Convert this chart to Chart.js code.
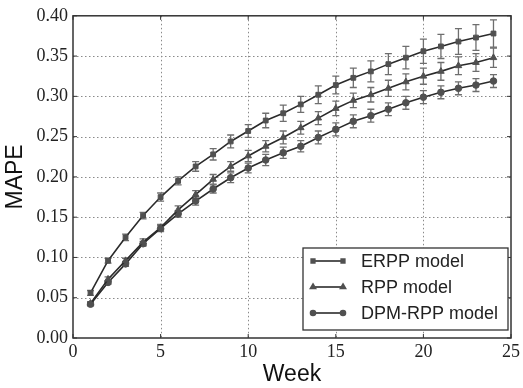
<!DOCTYPE html>
<html>
<head>
<meta charset="utf-8">
<script src="https://cdn.jsdelivr.net/npm/chart.js@4"></script>
<style>
  html, body { margin: 0; padding: 0; background: #fff; }
  #wrap { width: 523px; height: 388px; }
</style>
</head>
<body>
<div id="wrap"><canvas id="mapeChart" width="523" height="388"></canvas></div>
<script>
// MAPE per week for the three models
const weeks = [1, 2, 3, 4, 5, 6, 7, 8, 9, 10, 11, 12, 13, 14, 15, 16, 17, 18, 19, 20, 21, 22, 23, 24];

const erppMape = [0.056, 0.096, 0.125, 0.152, 0.175, 0.195, 0.213, 0.228, 0.244, 0.257, 0.270, 0.279,
  0.290, 0.302, 0.314, 0.323, 0.331, 0.340, 0.348, 0.356, 0.362, 0.368, 0.373, 0.378];
const erppErr = [0.003, 0.003, 0.004, 0.004, 0.005, 0.005, 0.006, 0.007, 0.008, 0.008, 0.009, 0.010,
  0.010, 0.011, 0.011, 0.012, 0.013, 0.013, 0.014, 0.015, 0.015, 0.016, 0.016, 0.017];

const rppMape = [0.043, 0.073, 0.096, 0.119, 0.137, 0.159, 0.178, 0.197, 0.213, 0.226, 0.238, 0.249,
  0.261, 0.273, 0.285, 0.295, 0.302, 0.310, 0.318, 0.325, 0.331, 0.338, 0.342, 0.348];
const rppErr = [0.002, 0.003, 0.003, 0.004, 0.004, 0.005, 0.005, 0.006, 0.006, 0.007, 0.007, 0.008,
  0.008, 0.008, 0.009, 0.009, 0.009, 0.010, 0.010, 0.010, 0.011, 0.011, 0.011, 0.012];

const dpmMape = [0.042, 0.069, 0.092, 0.117, 0.136, 0.154, 0.170, 0.185, 0.199, 0.211, 0.221, 0.230,
  0.238, 0.249, 0.259, 0.269, 0.276, 0.284, 0.292, 0.299, 0.305, 0.310, 0.314, 0.319];
const dpmErr = [0.002, 0.002, 0.003, 0.003, 0.004, 0.004, 0.005, 0.005, 0.006, 0.006, 0.007, 0.007,
  0.007, 0.008, 0.008, 0.008, 0.008, 0.008, 0.008, 0.008, 0.008, 0.008, 0.008, 0.008];

const seriesLabels = ["ERPP model", "RPP model", "DPM-RPP model"];
const xTicks = [0, 5, 10, 15, 20, 25];
const yTicks = [0, 0.05, 0.10, 0.15, 0.20, 0.25, 0.30, 0.35, 0.40];

const LINE = "#2b2b2b";
const MARK = "#505050";
const ERR = "#6e6e6e";
const GRID = "#8a8a8a";
const SERIF = "'Liberation Serif', 'DejaVu Serif', serif";
const SANS = "'Liberation Sans', Arial, sans-serif";

function toPoints(vals, errs) {
  return weeks.map((w, i) => ({ x: w, y: vals[i], err: errs[i] }));
}

function makeSet(label, vals, errs, style, radius) {
  return {
    label,
    data: toPoints(vals, errs),
    borderColor: LINE,
    borderWidth: 1.6,
    backgroundColor: MARK,
    pointBackgroundColor: MARK,
    pointBorderColor: MARK,
    pointBorderWidth: 1,
    pointStyle: style,
    pointRadius: radius,
    tension: 0,
    fill: false
  };
}

/* ---------- dotted grid + error bars, drawn under the lines ---------- */
const gridAndErrors = {
  id: "gridAndErrors",
  beforeDatasetsDraw(chart) {
    const { ctx, chartArea: a, scales: { x, y } } = chart;
    ctx.save();

    // dotted grid
    ctx.strokeStyle = GRID;
    ctx.lineWidth = 1;
    ctx.setLineDash([1.5, 2.5]);
    xTicks.slice(1, -1).forEach((t) => {
      const px = Math.round(x.getPixelForValue(t)) + 0.5;
      ctx.beginPath();
      ctx.moveTo(px, a.top);
      ctx.lineTo(px, a.bottom);
      ctx.stroke();
    });
    yTicks.slice(1, -1).forEach((t) => {
      const py = Math.round(y.getPixelForValue(t)) + 0.5;
      ctx.beginPath();
      ctx.moveTo(a.left, py);
      ctx.lineTo(a.right, py);
      ctx.stroke();
    });
    ctx.setLineDash([]);

    // error bars with caps
    ctx.strokeStyle = ERR;
    ctx.lineWidth = 1.3;
    chart.data.datasets.forEach((ds) => {
      ds.data.forEach((p) => {
        const px = x.getPixelForValue(p.x);
        const top = y.getPixelForValue(p.y + p.err);
        const bot = y.getPixelForValue(p.y - p.err);
        ctx.beginPath();
        ctx.moveTo(px, top);
        ctx.lineTo(px, bot);
        ctx.moveTo(px - 3.5, top);
        ctx.lineTo(px + 3.5, top);
        ctx.moveTo(px - 3.5, bot);
        ctx.lineTo(px + 3.5, bot);
        ctx.stroke();
      });
    });
    ctx.restore();
  }
};

/* ---------- frame + boxed legend in lower right ---------- */
const frameAndLegend = {
  id: "frameAndLegend",
  afterDraw(chart) {
    const { ctx, chartArea: a } = chart;
    ctx.save();
    ctx.strokeStyle = "#333";
    ctx.lineWidth = 1.5;
    ctx.strokeRect(a.left, a.top, a.right - a.left, a.bottom - a.top);

    // small inward tick marks like the original
    const { x, y } = chart.scales;
    ctx.lineWidth = 1;
    xTicks.forEach((t) => {
      const px = x.getPixelForValue(t);
      ctx.beginPath();
      ctx.moveTo(px, a.bottom); ctx.lineTo(px, a.bottom - 4);
      ctx.moveTo(px, a.top); ctx.lineTo(px, a.top + 4);
      ctx.stroke();
    });
    yTicks.forEach((t) => {
      const py = y.getPixelForValue(t);
      ctx.beginPath();
      ctx.moveTo(a.left, py); ctx.lineTo(a.left + 4, py);
      ctx.moveTo(a.right, py); ctx.lineTo(a.right - 4, py);
      ctx.stroke();
    });

    // legend box
    const bx = 303, by = 248, bw = 205, bh = 82;
    ctx.fillStyle = "#fff";
    ctx.fillRect(bx, by, bw, bh);
    ctx.strokeStyle = "#333";
    ctx.lineWidth = 1.3;
    ctx.strokeRect(bx, by, bw, bh);

    ctx.font = "18px " + SANS;
    ctx.textBaseline = "middle";
    ctx.textAlign = "left";
    chart.data.datasets.forEach((ds, i) => {
      const ry = by + 13 + i * 26;
      ctx.strokeStyle = LINE;
      ctx.lineWidth = 1.6;
      ctx.beginPath();
      ctx.moveTo(313, ry);
      ctx.lineTo(343, ry);
      ctx.stroke();
      ctx.fillStyle = MARK;
      ctx.strokeStyle = MARK;
      [313, 343].forEach((mx) => {
        Chart.helpers.drawPoint(ctx, {
          pointStyle: ds.pointStyle,
          radius: ds.pointRadius - 0.8,
          borderWidth: 1
        }, mx, ry);
      });
      ctx.fillStyle = "#222";
      ctx.fillText(ds.label, 361, ry + 1);
    });
    ctx.restore();
  }
};

const ctx = document.getElementById("mapeChart").getContext("2d");

new Chart(ctx, {
  type: "line",
  data: {
    datasets: [
      makeSet(seriesLabels[0], erppMape, erppErr, "rect", 3.4),
      makeSet(seriesLabels[1], rppMape, rppErr, "triangle", 3.8),
      makeSet(seriesLabels[2], dpmMape, dpmErr, "circle", 3.3)
    ]
  },
  options: {
    responsive: false,
    animation: false,
    layout: { padding: { top: 14, right: 7, left: 0, bottom: 0 } },
    plugins: {
      legend: { display: false },
      tooltip: { enabled: false }
    },
    scales: {
      x: {
        type: "linear",
        min: 0,
        max: 25,
        afterBuildTicks: (s) => { s.ticks = xTicks.map((v) => ({ value: v })); },
        afterFit: (s) => { s.height = 50; },
        grid: { display: false, drawTicks: false },
        border: { display: false },
        ticks: {
          color: "#222",
          font: { family: SERIF, size: 18 },
          padding: 3,
          maxRotation: 0
        },
        title: {
          display: true,
          text: "Week",
          color: "#111",
          font: { family: SANS, size: 23 },
          padding: { top: 0, bottom: 0 }
        }
      },
      y: {
        min: 0,
        max: 0.4,
        afterBuildTicks: (s) => { s.ticks = yTicks.map((v) => ({ value: v })); },
        afterFit: (s) => { s.width = 73; },
        grid: { display: false, drawTicks: false },
        border: { display: false },
        ticks: {
          color: "#222",
          font: { family: SERIF, size: 18 },
          padding: 5,
          callback: (v) => Number(v).toFixed(2)
        },
        title: {
          display: true,
          text: "MAPE",
          color: "#111",
          font: { family: SANS, size: 23 },
          padding: { top: 2, bottom: 4 }
        }
      }
    }
  },
  plugins: [gridAndErrors, frameAndLegend]
});
</script>
</body>
</html>
